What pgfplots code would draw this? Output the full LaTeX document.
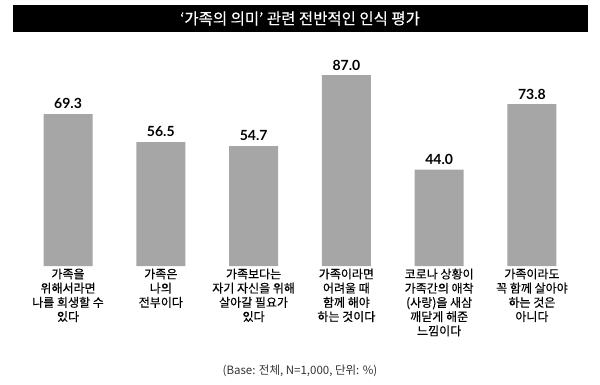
\documentclass[border=0pt]{standalone}
\usepackage{fontspec}
\setmainfont{Noto Sans CJK KR}
\newfontfamily\krlab[FakeBold=0.35]{Noto Sans CJK KR}
\newfontfamily\numfont{Lato}
\usepackage{pgfplots}
\pgfplotsset{compat=1.18}
\definecolor{barg}{RGB}{166,166,166}
\definecolor{foot}{RGB}{50,50,50}
\begin{document}
\begin{tikzpicture}[x=1pt,y=1pt]
\useasboundingbox (0,0) rectangle (600,384);
\fill[black] (13,352) rectangle (588,379);
\node[text=white, font=\krlab\fontsize{15.5}{17}\selectfont] at (300,365.5) {‘가족의 의미’ 관련 전반적인 인식 평가};
\begin{axis}[
  at={(21.65pt,118pt)}, anchor=south west, scale only axis,
  width=556.7pt, height=219.3pt,
  xmin=-0.5, xmax=5.5, ymin=0, ymax=100,
  axis line style={draw=none},
  ytick=\empty,
  xtick=data,
  major tick length=0pt,
  xticklabels={{가족을\\위해서라면\\나를 희생할 수\\있다},
               {가족은\\나의\\전부이다},
               {가족보다는\\자기 자신을 위해\\살아갈 필요가\\있다},
               {가족이라면\\어려울 때\\함께 해야\\하는 것이다},
               {코로나 상황이\\가족간의 애착\\(사랑)을 새삼\\깨닫게 해준\\느낌이다},
               {가족이라도\\꼭 함께 살아야\\하는 것은\\아니다}},
  xticklabel style={align=center, font=\krlab\fontsize{12}{14.2}\selectfont, text=black, yshift=1pt},
  ybar, bar width=49pt,
  /pgf/number format/assume math mode=true,
  /pgf/number format/.cd, fixed, fixed zerofill, precision=1, /pgfplots/.cd,
  nodes near coords,
  nodes near coords style={font=\numfont\bfseries\fontsize{14}{16}\selectfont, text=black, yshift=1.5pt},
  clip=false,
]
\addplot[fill=barg, draw=none] coordinates {(0,69.3) (1,56.5) (2,54.7) (3,87.0) (4,44.0) (5,73.8)};
\end{axis}
\node[text=foot, font=\fontsize{11.5}{13}\selectfont] at (300,13) {(Base: 전체, N=1,000, 단위: \%)};
\end{tikzpicture}
\end{document}
